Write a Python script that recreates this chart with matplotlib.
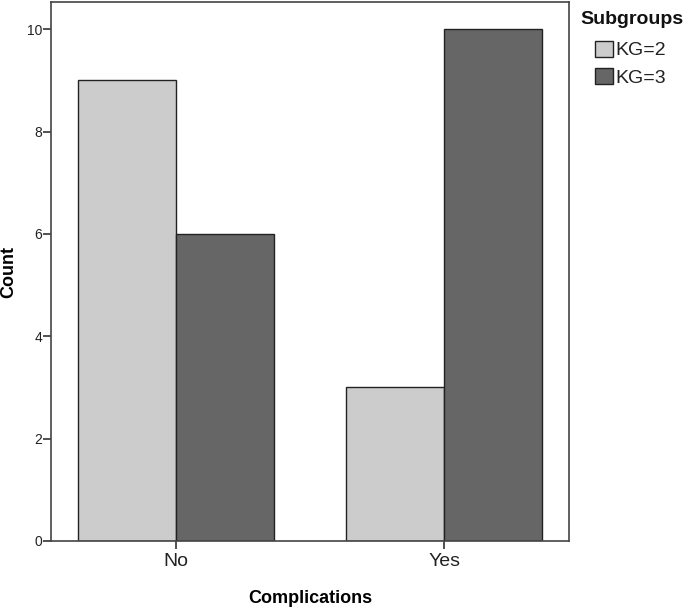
import matplotlib
matplotlib.use("Agg")
import matplotlib.pyplot as plt
import numpy as np
from matplotlib.patches import Patch

plt.rcParams['font.family'] = ['Liberation Sans', 'DejaVu Sans']

categories = ["No", "Yes"]
series_names = ["KG=2", "KG=3"]
kg2 = [9, 3]
kg3 = [6, 10]
yticks = [0, 2, 4, 6, 8, 10]
colors = ["#cccccc", "#666666"]

fig = plt.figure(figsize=(6.85, 6.08), dpi=100)
ax = fig.add_axes([0.0745, 0.1102, 0.7562, 0.8865])

x = np.arange(len(categories))
w = 0.366
ax.bar(x - w/2, kg2, width=w, color=colors[0], edgecolor="#222222", linewidth=1.0)
ax.bar(x + w/2, kg3, width=w, color=colors[1], edgecolor="#222222", linewidth=1.0)

ax.set_xlim(-0.466, 1.466)
ax.set_ylim(0, 10.53)
ax.set_xticks(x)
ax.set_xticklabels(categories, fontsize=14, color="#222222")
ax.set_yticks(yticks)
ax.set_yticklabels([str(t) for t in yticks], fontsize=10, color="#222222")
ax.tick_params(axis='both', length=6, width=1.2, color="#333333")
ax.tick_params(axis='y', pad=0.5)
ax.tick_params(axis='x', pad=3)
for s in ax.spines.values():
    s.set_color("#444444")
    s.set_linewidth(1.2)

ax.set_ylabel("Count", fontsize=13, fontweight="bold")
ax.yaxis.set_label_coords(-0.081, 0.5)
ax.yaxis.label.set_va("center")
ax.set_xlabel("Complications", fontsize=13, fontweight="bold")
ax.xaxis.set_label_coords(0.5, -0.106)
ax.xaxis.label.set_va("center")

fig.text(580/685, 1 - 20/608, "Subgroups", fontsize=14, fontweight="bold",
         ha="left", va="center", color="#111111")
handles = [Patch(facecolor=colors[i], edgecolor="#222222", label=series_names[i]) for i in range(2)]
leg = fig.legend(handles=handles, loc="upper left",
                 bbox_to_anchor=(595/685, 1 - 41/608), frameon=False, fontsize=14,
                 handlelength=0.95, handleheight=0.85, handletextpad=0.08,
                 labelspacing=0.45, borderaxespad=0.0, borderpad=0.0)
for t in leg.get_texts():
    t.set_color("#222222")

fig.savefig("out.png", dpi=100)
